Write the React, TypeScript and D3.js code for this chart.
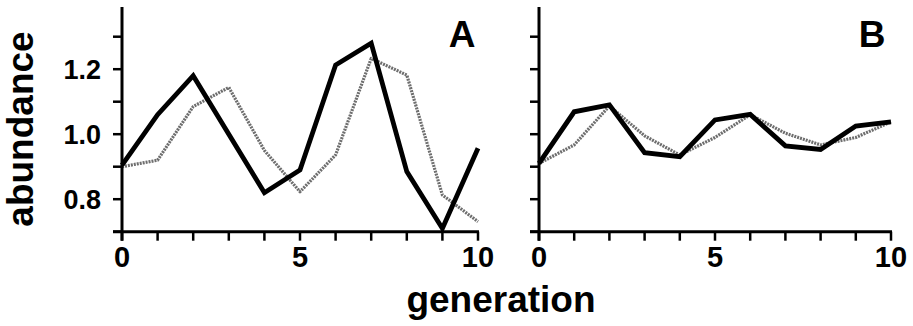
import React from "react";
import * as d3 from "d3";

const generations = [0, 1, 2, 3, 4, 5, 6, 7, 8, 9, 10];
const panelASolid = [0.905, 1.06, 1.18, 1.0, 0.82, 0.89, 1.213, 1.28, 0.885, 0.71, 0.957];
const panelADotted = [0.9, 0.92, 1.085, 1.144, 0.95, 0.823, 0.936, 1.233, 1.182, 0.813, 0.731];
const panelBSolid = [0.91, 1.069, 1.09, 0.943, 0.931, 1.044, 1.061, 0.964, 0.953, 1.025, 1.038];
const panelBDotted = [0.91, 0.967, 1.087, 0.995, 0.936, 0.99, 1.06, 1.003, 0.967, 0.99, 1.038];
const yTicks = [0.7, 0.8, 0.9, 1.0, 1.1, 1.2, 1.3];
const yTickLabels = [0.8, 1.0, 1.2];
const xTickLabels = [0, 5, 10];

const FONT = "'Liberation Sans', Arial, Helvetica, sans-serif";

type PanelProps = {
  x0: number;
  x1: number;
  solid: number[];
  dotted: number[];
  letter: string;
  letterX: number;
  showYLabels: boolean;
};

function Panel({ x0, x1, solid, dotted, letter, letterX, showYLabels }: PanelProps) {
  const x = d3.scaleLinear().domain([0, 10]).range([x0, x1]);
  const y = d3.scaleLinear().domain([0.7, 1.4]).range([231.7, 4.2]);
  const line = d3
    .line<number>()
    .x((_, i) => x(generations[i]))
    .y((d) => y(d));
  const axisY = y(0.7);
  return (
    <g>
      {/* dotted (grey) series */}
      <path
        d={line(dotted) || ""}
        fill="none"
        stroke="#6e6e6e"
        strokeWidth={3.2}
        strokeDasharray="2 1"
        strokeLinejoin="round"
      />
      {/* solid series */}
      <path
        d={line(solid) || ""}
        fill="none"
        stroke="#000"
        strokeWidth={4.8}
        strokeLinejoin="miter"
      />
      {/* axes */}
      <line x1={x(0)} x2={x(0)} y1={7} y2={axisY + 9} stroke="#000" strokeWidth={3} />
      <line x1={x(0) - 9} x2={x(10) + 1} y1={axisY} y2={axisY} stroke="#000" strokeWidth={3} />
      {yTicks.map((t) => (
        <line key={"yt" + t} x1={x(0) - 9} x2={x(0)} y1={y(t)} y2={y(t)} stroke="#000" strokeWidth={2.5} />
      ))}
      {generations.map((g) => (
        <line key={"xt" + g} x1={x(g)} x2={x(g)} y1={axisY} y2={axisY + 9} stroke="#000" strokeWidth={2.5} />
      ))}
      {showYLabels &&
        yTickLabels.map((t) => (
          <text
            key={"yl" + t}
            x={x(0) - 21}
            y={y(t) + 9.5}
            textAnchor="end"
            fontFamily={FONT}
            fontWeight="bold"
            fontSize={27}
          >
            {t.toFixed(1)}
          </text>
        ))}
      {xTickLabels.map((g) => (
        <text
          key={"xl" + g}
          x={x(g)}
          y={267}
          textAnchor="middle"
          fontFamily={FONT}
          fontWeight="bold"
          fontSize={29}
        >
          {g}
        </text>
      ))}
      <text x={letterX} y={47} textAnchor="middle" fontFamily={FONT} fontWeight="bold" fontSize={37}>
        {letter}
      </text>
    </g>
  );
}

export default function App() {
  return (
    <svg
      width={913}
      height={326}
      viewBox="0 0 913 326"
      style={{ position: "absolute", left: 0, top: 0, background: "#fff" }}
    >
      <rect width={913} height={326} fill="#fff" />
      <Panel
        x0={122}
        x1={478}
        solid={panelASolid}
        dotted={panelADotted}
        letter="A"
        letterX={462}
        showYLabels={true}
      />
      <Panel
        x0={539}
        x1={891}
        solid={panelBSolid}
        dotted={panelBDotted}
        letter="B"
        letterX={872}
        showYLabels={false}
      />
      <text
        transform="translate(33,129) rotate(-90)"
        textAnchor="middle"
        fontFamily={FONT}
        fontWeight="bold"
        fontSize={37}
      >
        abundance
      </text>
      <text x={501} y={312} textAnchor="middle" fontFamily={FONT} fontWeight="bold" fontSize={37}>
        generation
      </text>
    </svg>
  );
}
